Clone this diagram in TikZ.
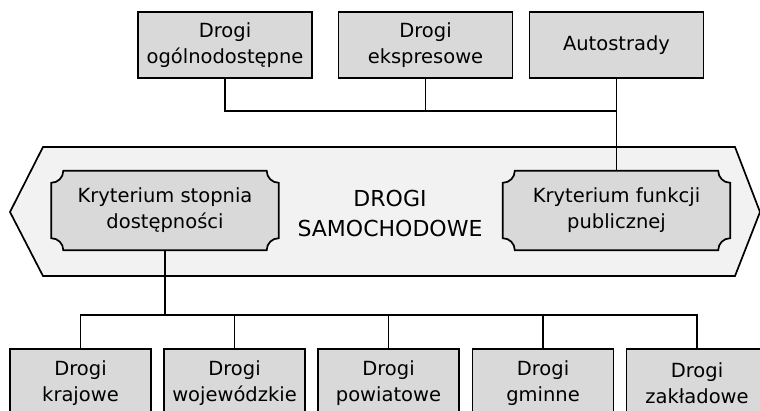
\documentclass[tikz,border=0pt]{standalone}
\usepackage{fontspec}
\setmainfont{DejaVu Sans}
\definecolor{boxgray}{HTML}{D9D9D9}
\definecolor{hexgray}{HTML}{F2F2F2}
\pgfdeclarelayer{bg}
\pgfdeclarelayer{mid}
\pgfsetlayers{bg,mid,main}
\newcommand\concaveshape[1]{%
  \begin{pgfonlayer}{mid}
  \draw[cboxline] ([yshift=-12pt]#1.north west) arc[start angle=270,end angle=360,radius=12pt]
    -- ([xshift=-12pt]#1.north east) arc[start angle=180,end angle=270,radius=12pt]
    -- ([yshift=12pt]#1.south east) arc[start angle=90,end angle=180,radius=12pt]
    -- ([xshift=12pt]#1.south west) arc[start angle=0,end angle=90,radius=12pt] -- cycle;
  \end{pgfonlayer}}
\begin{document}
\begin{tikzpicture}[x=1pt,y=1pt,
  every node/.style={font=\fontsize{19.5}{26}\selectfont, align=center, inner sep=0pt},
  rbox/.style={draw=black, line width=1.7pt, fill=boxgray, minimum height=66pt},
  topbox/.style={rbox, minimum width=174pt},
  botbox/.style={rbox, minimum width=141pt, minimum height=68pt},
  critbox/.style={minimum width=227pt, minimum height=79pt},
  cboxline/.style={draw=black, line width=1.7pt, fill=boxgray},
  conn/.style={draw=black, line width=1.9pt},
  hexshape/.style={draw=black, line width=1.7pt, fill=hexgray},
  titletext/.style={font=\fontsize{22}{30}\selectfont}]
\useasboundingbox (0,0) rectangle (760,-411);
\clip (0,0) rectangle (760,-411);
% hexagon
\begin{pgfonlayer}{bg}
\draw[hexshape] (43,-147) -- (735,-147) -- (760,-212) -- (735,-276) -- (43,-276) -- (10,-212) -- cycle;
\end{pgfonlayer}
\node[titletext] (title) at (390,-213) {DROGI\\SAMOCHODOWE};
% top boxes
\node[topbox] (b1) at (225,-45) {Drogi\\ogólnodostępne};
\node[topbox] (b2) at (425.5,-45) {Drogi\\ekspresowe};
\node[topbox] (b3) at (616.5,-45) {Autostrady};
% criterion boxes
\node[critbox] (ks) at (165,-210.5) {Kryterium stopnia\\dostępności};
\node[critbox] (kf) at (616.5,-210.5) {Kryterium funkcji\\publicznej};
\concaveshape{ks}
\concaveshape{kf}
% bottom boxes
\node[botbox] (c1) at (80.5,-383) {Drogi\\krajowe};
\node[botbox] (c2) at (234.5,-383) {Drogi\\wojewódzkie};
\node[botbox] (c3) at (388.5,-383) {Drogi\\powiatowe};
\node[botbox] (c4) at (543,-383) {Drogi\\gminne};
\node[botbox] (c5) at (697,-383) {Drogi\\zakładowe};
% connectors top
\coordinate (jt) at (616.5,-111);
\draw[conn] (b1.south) |- (jt);
\draw[conn] (b2.south) -- (b2.south |- jt);
\draw[conn] (b3.south) -- (kf.north);
% connectors bottom
\coordinate (jb) at (165,-315);
\draw[conn] (ks.south) -- (jb);
\draw[conn] (c1.north) |- (c5.north |- jb) -- (c5.north);
\draw[conn] (c2.north) -- (c2.north |- jb);
\draw[conn] (c3.north) -- (c3.north |- jb);
\draw[conn] (c4.north) -- (c4.north |- jb);
\end{tikzpicture}
\end{document}
